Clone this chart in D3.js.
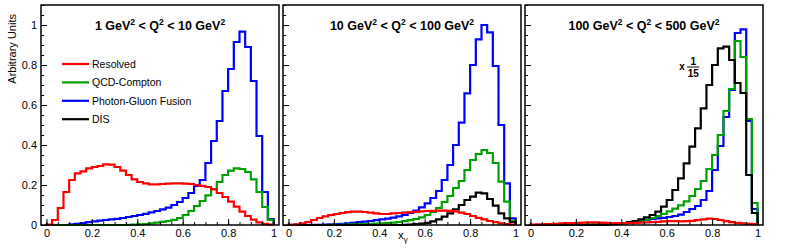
<!DOCTYPE html>
<html>
<head>
<meta charset="utf-8">
<script src="https://cdn.jsdelivr.net/npm/d3@7"></script>
<style>
  body { margin: 0; background: #fff; }
  svg { display: block; font-family: "Liberation Sans", Arial, Helvetica, sans-serif; }
</style>
</head>
<body>
<svg id="chart" width="789" height="252"></svg>
<script>
// 40 bins of width 0.025 on x_gamma in [0,1]
const binEdges = d3.range(41).map(i => i * 0.025);
const xTicks = [0, 0.2, 0.4, 0.6, 0.8, 1];
const yTicks = [0, 0.2, 0.4, 0.6, 0.8, 1];
const minorTicks = d3.range(23).map(i => i * 0.05);

const seriesNames = ["Resolved", "QCD-Compton", "Photon-Gluon Fusion", "DIS"];
const seriesColors = ["#ff0000", "#00a000", "#0000ff", "#000000"];

// panel 1: 1 < Q2 < 10 GeV2
const p1Resolved = [0.002, 0.025, 0.085, 0.165, 0.225, 0.258, 0.268, 0.283, 0.29, 0.295,
  0.303, 0.302, 0.29, 0.272, 0.25, 0.228, 0.215, 0.208, 0.203, 0.203,
  0.205, 0.207, 0.208, 0.208, 0.207, 0.205, 0.2, 0.196, 0.19, 0.178,
  0.16, 0.14, 0.117, 0.092, 0.067, 0.045, 0.027, 0.013, 0.006, 0.002];
const p1Compton = [0, 0, 0, 0, 0, 0, 0, 0, 0, 0,
  0, 0, 0, 0, 0.001, 0.002, 0.003, 0.005, 0.008, 0.012,
  0.016, 0.02, 0.026, 0.035, 0.05, 0.07, 0.095, 0.12, 0.148, 0.18,
  0.215, 0.25, 0.272, 0.283, 0.28, 0.265, 0.228, 0.165, 0.09, 0.025];
const p1PGF = [0, 0, 0, 0, 0.003, 0.006, 0.01, 0.014, 0.018, 0.022,
  0.025, 0.028, 0.031, 0.035, 0.04, 0.045, 0.05, 0.056, 0.063, 0.07,
  0.078, 0.087, 0.1, 0.115, 0.135, 0.16, 0.195, 0.225, 0.31, 0.42,
  0.52, 0.67, 0.78, 0.915, 0.967, 0.89, 0.72, 0.445, 0.165, 0.03];

// panel 2: 10 < Q2 < 100 GeV2
const p2Resolved = [0.001, 0.003, 0.008, 0.015, 0.025, 0.035, 0.043, 0.05, 0.055, 0.06,
  0.064, 0.067, 0.067, 0.065, 0.062, 0.058, 0.055, 0.055, 0.058, 0.06,
  0.062, 0.064, 0.066, 0.068, 0.07, 0.071, 0.072, 0.072, 0.071, 0.068,
  0.062, 0.055, 0.045, 0.036, 0.028, 0.02, 0.014, 0.008, 0.004, 0.002];
const p2Compton = [0, 0, 0, 0, 0, 0, 0, 0.001, 0.001, 0.002,
  0.002, 0.003, 0.004, 0.005, 0.006, 0.007, 0.008, 0.01, 0.012, 0.015,
  0.019, 0.024, 0.03, 0.038, 0.05, 0.065, 0.085, 0.115, 0.145, 0.185,
  0.22, 0.275, 0.325, 0.355, 0.375, 0.36, 0.31, 0.217, 0.117, 0.02];
const p2PGF = [0.001, 0.001, 0.001, 0.001, 0.001, 0.001, 0.002, 0.003, 0.004, 0.006,
  0.008, 0.011, 0.014, 0.017, 0.02, 0.024, 0.028, 0.032, 0.037, 0.043,
  0.05, 0.06, 0.072, 0.088, 0.108, 0.135, 0.17, 0.225, 0.3, 0.4,
  0.512, 0.658, 0.8, 0.928, 1.0, 0.963, 0.795, 0.5, 0.208, 0.033];
const p2DIS = [0, 0, 0, 0, 0, 0, 0, 0, 0, 0,
  0, 0, 0, 0, 0, 0, 0, 0, 0, 0,
  0.001, 0.002, 0.004, 0.007, 0.011, 0.018, 0.028, 0.042, 0.058, 0.078,
  0.1, 0.125, 0.142, 0.162, 0.158, 0.13, 0.097, 0.058, 0.033, 0.015];

// panel 3: 100 < Q2 < 500 GeV2 (DIS scaled by 1/15)
const p3Resolved = [0.002, 0.003, 0.004, 0.005, 0.006, 0.008, 0.009, 0.01, 0.011, 0.012,
  0.013, 0.013, 0.012, 0.011, 0.01, 0.009, 0.009, 0.01, 0.011, 0.012,
  0.013, 0.014, 0.016, 0.018, 0.019, 0.019, 0.018, 0.019, 0.021, 0.024,
  0.028, 0.032, 0.03, 0.025, 0.019, 0.014, 0.011, 0.008, 0.006, 0.004];
const p3Compton = [0, 0, 0, 0, 0, 0, 0, 0.001, 0.001, 0.001,
  0.001, 0.002, 0.002, 0.003, 0.004, 0.006, 0.008, 0.011, 0.015, 0.02,
  0.027, 0.035, 0.045, 0.056, 0.068, 0.082, 0.098, 0.118, 0.145, 0.18,
  0.22, 0.28, 0.35, 0.45, 0.57, 0.68, 0.92, 0.84, 0.53, 0.11];
const p3PGF = [0, 0, 0, 0, 0, 0, 0, 0, 0, 0.001,
  0.001, 0.001, 0.002, 0.003, 0.004, 0.006, 0.009, 0.012, 0.015, 0.02,
  0.025, 0.03, 0.033, 0.036, 0.04, 0.045, 0.052, 0.065, 0.08, 0.095,
  0.125, 0.17, 0.275, 0.395, 0.54, 0.675, 0.96, 0.978, 0.52, 0.08];
const p3DIS = [0, 0, 0, 0, 0, 0, 0, 0, 0, 0,
  0.001, 0.001, 0.002, 0.003, 0.005, 0.007, 0.01, 0.014, 0.02, 0.028,
  0.038, 0.05, 0.067, 0.092, 0.125, 0.175, 0.233, 0.308, 0.392, 0.483,
  0.583, 0.7, 0.8, 0.883, 0.892, 0.825, 0.71, 0.66, 0.25, 0.06];

const panels = [
  { title: [["1 GeV"], ["2", true], [" < Q"], ["2", true], [" < 10 GeV"], ["2", true]],
    series: [p1Resolved, p1Compton, p1PGF, null] },
  { title: [["10 GeV"], ["2", true], [" < Q"], ["2", true], [" < 100 GeV"], ["2", true]],
    series: [p2Resolved, p2Compton, p2PGF, p2DIS] },
  { title: [["100 GeV"], ["2", true], [" < Q"], ["2", true], [" < 500 GeV"], ["2", true]],
    series: [p3Resolved, p3Compton, p3PGF, p3DIS] }
];

// layout
const panelLeft = [41, 283, 525];
const panelW = 238;
const frameTop = 5, frameBottom = 225;
const drawOrder = [2, 1, 3, 0];

const svg = d3.select("#chart");
const y = d3.scaleLinear().domain([0, 1.1]).range([frameBottom, frameTop]);

panels.forEach((p, i) => {
  const x = d3.scaleLinear().domain([-0.024, 1.024]).range([panelLeft[i], panelLeft[i] + panelW]);
  const g = svg.append("g");

  // histograms (step outlines)
  const line = d3.line().x(d => x(d[0])).y(d => y(d[1]));
  drawOrder.forEach(s => {
    const vals = p.series[s];
    if (!vals) return;
    const pts = [[0, 0]];
    vals.forEach((v, k) => { pts.push([binEdges[k], v]); pts.push([binEdges[k + 1], v]); });
    pts.push([1, 0]);
    g.append("path")
      .attr("d", line(pts))
      .attr("fill", "none")
      .attr("stroke", seriesColors[s])
      .attr("stroke-width", 2.2)
      .attr("stroke-linejoin", "miter");
  });

  // y axis, ticks pointing inward
  g.append("g").attr("transform", `translate(${panelLeft[i]},0)`)
    .call(d3.axisLeft(y).tickValues(yTicks).tickSize(-6).tickPadding(4)
      .tickFormat(i === 0 ? d3.format("~g") : () => ""));
  g.append("g").attr("transform", `translate(${panelLeft[i]},0)`)
    .call(d3.axisLeft(y).tickValues(minorTicks).tickSize(-3).tickFormat(() => ""));

  // x axis
  g.append("g").attr("transform", `translate(0,${frameBottom})`)
    .call(d3.axisBottom(x).tickValues(xTicks).tickSize(-6).tickPadding(4).tickFormat(d3.format("~g")));
  g.append("g").attr("transform", `translate(0,${frameBottom})`)
    .call(d3.axisBottom(x).tickValues(minorTicks.filter(t => t <= 1)).tickSize(-3).tickFormat(() => ""));

  g.selectAll(".domain").remove();
  g.selectAll(".tick line").attr("stroke", "#000").attr("stroke-width", 1);
  g.selectAll(".tick text")
    .attr("font-family", "'Liberation Sans', Arial, sans-serif")
    .attr("font-size", 11)
    .attr("fill", "#000");

  // frame
  g.append("rect")
    .attr("x", panelLeft[i]).attr("y", frameTop)
    .attr("width", panelW).attr("height", frameBottom - frameTop)
    .attr("fill", "none").attr("stroke", "#000").attr("stroke-width", 1.5);

  // title
  const t = g.append("text")
    .attr("x", x(0.5)).attr("y", 29.5)
    .attr("text-anchor", "middle")
    .attr("font-weight", "bold")
    .attr("font-size", 12.5);
  let up = false;
  p.title.forEach(([s, sup]) => {
    const ts = t.append("tspan").text(s);
    if (sup) { ts.attr("font-size", 8.5).attr("dy", -5); up = true; }
    else if (up) { ts.attr("dy", 5); up = false; }
  });

  if (i === 0) {
    // legend
    seriesNames.forEach((name, k) => {
      const ly = 64 + k * 18.4;
      g.append("line").attr("x1", 62).attr("x2", 89).attr("y1", ly).attr("y2", ly)
        .attr("stroke", seriesColors[k]).attr("stroke-width", 2.2);
      g.append("text").attr("x", 92).attr("y", ly + 3.8)
        .attr("font-size", 10.5).text(name);
    });
  }

  if (i === 1) {
    // x axis title
    const xt = g.append("text").attr("x", x(0.5) - 4).attr("y", 239)
      .attr("font-size", 11.5).attr("text-anchor", "start");
    xt.append("tspan").text("x");
    xt.append("tspan").text("\u03b3").attr("font-size", 8).attr("dy", 3);
  }

  if (i === 2) {
    // x 1/15 scale note on DIS
    const ax = x(0.655), ay = y(0.79);
    g.append("text").attr("x", ax).attr("y", ay + 3).attr("font-size", 10)
      .attr("font-weight", "bold").text("x");
    g.append("text").attr("x", ax + 14).attr("y", ay - 2).attr("font-size", 10)
      .attr("font-weight", "bold").attr("text-anchor", "middle").text("1");
    g.append("line").attr("x1", ax + 8).attr("x2", ax + 20).attr("y1", ay).attr("y2", ay)
      .attr("stroke", "#000").attr("stroke-width", 1);
    g.append("text").attr("x", ax + 14).attr("y", ay + 10).attr("font-size", 10)
      .attr("font-weight", "bold").attr("text-anchor", "middle").text("15");
  }
});

// y axis title
svg.append("text")
  .attr("transform", "translate(16,14) rotate(-90)")
  .attr("text-anchor", "end")
  .attr("font-size", 11)
  .text("Arbitrary Units");
</script>
</body>
</html>
